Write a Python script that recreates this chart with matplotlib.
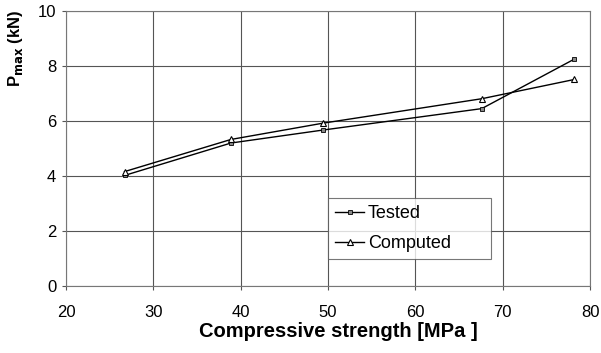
import matplotlib
matplotlib.use("Agg")
import matplotlib.pyplot as plt

strength = [26.7, 38.9, 49.4, 67.6, 78.2]
tested = [4.02, 5.20, 5.67, 6.45, 8.25]
computed = [4.16, 5.33, 5.92, 6.81, 7.51]
xticks = [20, 30, 40, 50, 60, 70, 80]
yticks = [0, 2, 4, 6, 8, 10]

plt.rcParams['font.family'] = ['Liberation Sans', 'DejaVu Sans']

fig = plt.figure(figsize=(6.01, 3.53), dpi=100)
ax = fig.add_axes([0.1098, 0.1898, 0.8719, 0.779])

ax.plot(strength, tested, color='black', lw=1.0, marker='s', ms=3,
        mfc='#888888', mec='black', mew=0.6, label='Tested')
ax.plot(strength, computed, color='black', lw=1.0, marker='^', ms=4.5,
        mfc='white', mec='black', mew=0.8, label='Computed')

ax.set_xlim(20, 80)
ax.set_ylim(0, 10)
ax.set_xticks(xticks)
ax.set_yticks(yticks)
ax.grid(True, color='#555555', lw=0.8)
ax.set_axisbelow(True)
for s in ax.spines.values():
    s.set_color('#777777')
    s.set_linewidth(0.8)
ax.tick_params(direction='out', length=3, width=0.8, color='#555555',
               labelsize=12, pad=4)
ax.tick_params(axis='x', pad=11)

ax.set_xlabel('Compressive strength [MPa ]', fontsize=14.5, fontweight='bold')
ax.xaxis.set_label_coords(0.519, -0.132)
ax.set_ylabel(r'P$_{\mathbf{max}}$ (kN)', fontsize=12, fontweight='bold')
ax.yaxis.set_label_coords(-0.078, 0.865)

leg = ax.legend(loc='lower left', bbox_to_anchor=(0.5, 0.098, 0.311, 0.226),
                mode='expand', fontsize=13, frameon=True, fancybox=False,
                edgecolor='#555555', handlelength=1.6, handletextpad=0.2,
                borderaxespad=0, labelspacing=0.7, borderpad=0.4)
leg.get_frame().set_linewidth(0.8)

fig.savefig('out.png', dpi=100)
